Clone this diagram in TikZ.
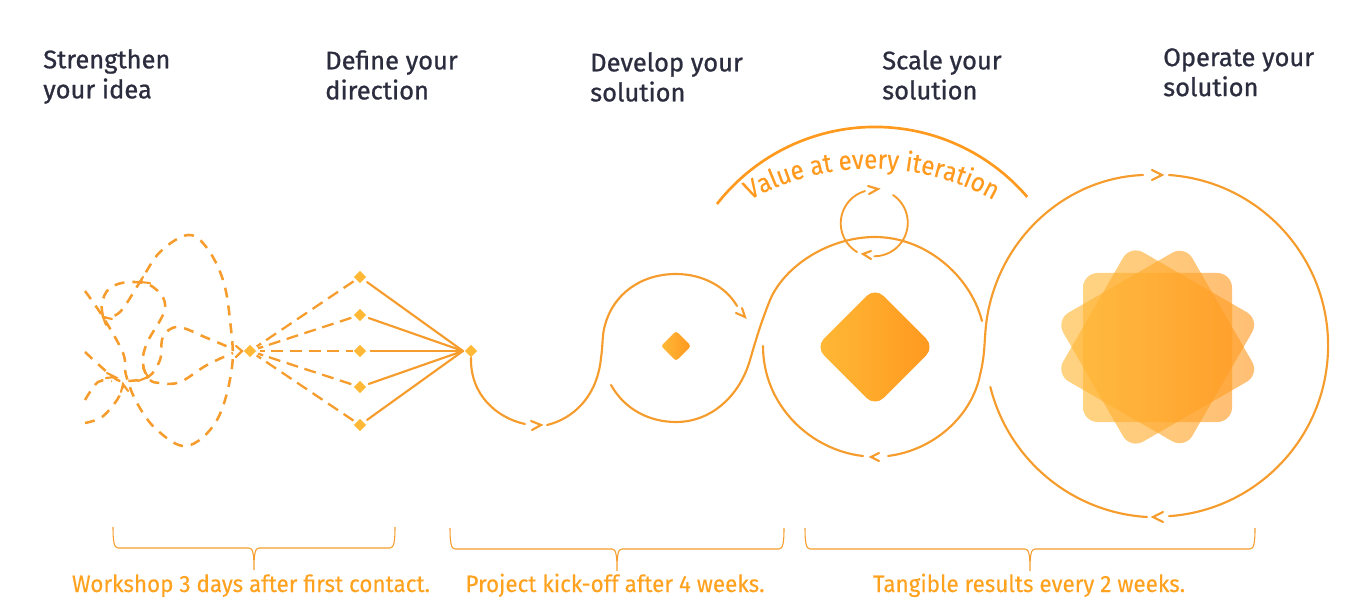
\documentclass[tikz,border=0pt]{standalone}
\usepackage{fontspec}
\setmainfont{Fira Sans}
\newfontfamily\headfont[FakeBold=0.9]{Fira Sans}
\newfontfamily\notefont[FakeBold=0.25,FakeStretch=0.95]{Fira Sans}
\newfontfamily\arcfont[FakeBold=0.3,FakeStretch=0.9]{Fira Sans}
\usetikzlibrary{shapes.geometric,decorations.text}
\definecolor{lineor}{HTML}{F59C2C}
\definecolor{arcor}{HTML}{FF9A1E}
\definecolor{inka}{HTML}{2B2D3E}
\definecolor{txtor}{HTML}{FFA21F}
\definecolor{gradl}{HTML}{FFB936}
\definecolor{gradr}{HTML}{FF981F}
\newcommand{\headsize}{\fontsize{19.1}{22.5}\selectfont}
\newcommand{\notesize}{\fontsize{17.7}{20}\selectfont}
\tikzset{
  x=0.75pt,y=-0.75pt,
  heading/.style={anchor=north west,inner sep=0pt,align=left,font=\headfont\headsize,text=inka},
  notetext/.style={anchor=base,inner sep=0pt,font=\notefont\notesize,text=txtor},
  solidline/.style={draw=lineor,line width=1.6pt,line cap=round},
  thinline/.style={draw=lineor,line width=1.4pt,line cap=round},
  dashline/.style={draw=lineor,line width=1.9pt,dash pattern=on 7.5pt off 6pt},
  fanline/.style={draw=lineor,line width=1.7pt,shorten <=2.5pt,dash pattern=on 4pt off 4.5pt on 9pt off 5pt on 9pt off 5pt on 9pt off 5pt on 9pt off 5pt on 9pt off 5pt on 9pt off 100pt},
  chevron/.style={draw=lineor,line width=1.6pt,line join=miter,line cap=round},
  dot/.style={diamond,fill=#1,inner sep=0pt,minimum size=9.5pt},
  dot/.default=gradl,
  bracket/.style={draw=lineor,line width=0.8pt},
  bigarc/.style={draw=arcor,line width=2pt},
  petal/.style={left color=gradl,right color=gradr,fill opacity=.62,rounded corners=11pt},
  gem/.style={left color=gradl,right color=gradr}
}
\begin{document}
\begin{tikzpicture}
\useasboundingbox (0,0) rectangle (1359,616);

% headings
\node[heading] (h1) at (43,49) {Strengthen\\your idea};
\node[heading] (h2) at (325,50) {Define your\\direction};
\node[heading] (h3) at (590,52) {Develop your\\solution};
\node[heading] (h4) at (882,50) {Scale your\\solution};
\node[heading] (h5) at (1163,48) {Operate your\\solution};

% loose dashed tangle
\draw[dashline] plot[smooth,tension=.6] coordinates {(85,291) (103,317) (123,353) (126,375) (137,403) (157,430) (187,446) (217,420) (232,367) (230,320) (223,280) (207,248) (188,235) (160,252) (140,282) (120,312) (104,318)};
\draw[dashline] plot[smooth,tension=.65] coordinates {(103,316) (102,303) (110,288) (130,282) (153,287) (165,308) (147,343) (143,363) (149,379) (160,383) (180,382) (207,365) (233,353)};
\draw[dashline] plot[smooth,tension=.6] coordinates {(85,352) (113,377) (125,381) (148,377) (160,360) (163,337) (178,327) (207,338) (233,349)};
\draw[dashline] plot[smooth,tension=.6] coordinates {(85,400) (98,382) (112,381)};
\draw[dashline] plot[smooth,tension=.6] coordinates {(85,423) (102,417) (117,400) (123,387)};
\draw[chevron] (107,373) -- (115,377) -- (106,378);
\draw[chevron] (121,392) -- (123,384) -- (128,391);
\draw[chevron] (112,319) -- (103,317) -- (106,325);
\draw[chevron] (143,277) -- (140,282) -- (150,283);
\draw[chevron] (143,368) -- (148,377) -- (138,381);
\draw[chevron] (236,346) -- (242,351) -- (236,357);

% fan
\node[dot] (start) at (250,351) {};
\node[dot] (t1) at (360,277) {};
\node[dot] (t2) at (360,315) {};
\node[dot] (t3) at (360,351) {};
\node[dot] (t4) at (360,387) {};
\node[dot] (t5) at (360,425) {};
\node[dot] (end) at (471,351) {};
\coordinate (conv) at (463,351);
\foreach \n in {t1,t2,t3,t4,t5}{
  \draw[fanline] (start) -- (\n);
  \draw[solidline,shorten <=3pt] (\n) -- (conv);
}

% develop loop
\draw[solidline] (end.south) .. controls (470,395) and (497,418) .. (525,424);
\draw[chevron] (531,421) -- (541,425) -- (532,430);
\draw[solidline] (547,425) .. controls (572,419) and (597,398) .. (601,358) .. controls (603,345) and (602,335) .. (605,325) .. controls (613,295) and (640,274) .. (676,274) .. controls (703,274) and (726,287) .. (737,306);
\draw[chevron] (736,313) -- (745,317) -- (742,308);
\draw[solidline] (611,385) .. controls (625,410) and (650,422) .. (676,422) .. controls (712,422) and (740,395) .. (750,360) .. controls (755,343) and (760,325) .. (770,300) .. controls (785,265) and (830,237) .. (875,237) .. controls (925,237) and (970,275) .. (982,321);
\shade[gem,rounded corners=2pt] (676,331) -- (691,346) -- (676,361) -- (661,346) -- cycle;

% scale loop
\draw[solidline] (763,346) .. controls (763,405) and (810,450) .. (863,456);
\draw[chevron] (879,453) -- (871,457) -- (879,461);
\draw[solidline] (888,456) .. controls (935,450) and (972,415) .. (980,375) .. controls (985,355) and (984,345) .. (986,325) .. controls (996,240) and (1065,178) .. (1143,175);
\shade[gem,rounded corners=9pt] (875,287.5) -- (934.5,347) -- (875,406.5) -- (815.5,347) -- cycle;

% small iteration loop
\draw[thinline] (893,195) arc[start angle=-56,end angle=90,radius=33.5];
\draw[thinline] (857,252) arc[start angle=121,end angle=254,radius=33.5];
\draw[chevron] (868,186) -- (878,189) -- (869,194);
\draw[chevron] (871,251) -- (863,254) -- (871,259);

% value arc and text
\draw[bigarc] (717,204) arc[start angle=218,end angle=319.4,radius=200.5];
\path[decorate,decoration={text along path,text color=arcor,text align=center,text={|\arcfont\fontsize{20}{22}\selectfont|Value at every iteration}}]
  (750,200) arc[start angle=241,end angle=299,radius=251];

% operate loop
\draw[solidline] (1169,175) arc[start angle=-86,end angle=86,radius=171];
\draw[solidline] (1147,517) arc[start angle=93.4,end angle=166,radius=172];
\draw[chevron] (1152,170) -- (1162,175) -- (1152,180);
\draw[chevron] (1163,512) -- (1153,517) -- (1163,522);
\foreach \r in {0,30,60}{
  \shade[petal,rotate around={\r:(1157,347)}] (1083,273) -- (1232,273) -- (1232,422) -- (1083,422) -- cycle;
}

% brackets
\draw[bracket] (113,527) .. controls (113,541) and (114,548) .. (118,548) -- (249,548) .. controls (253,548) and (254,554) .. (254,570) .. controls (254,554) and (255,548) .. (259,548) -- (390,548) .. controls (394,548) and (395,541) .. (395,527);
\draw[bracket] (450,528) .. controls (450,542) and (451,549) .. (455,549) -- (612,549) .. controls (616,549) and (617,555) .. (617,571) .. controls (617,555) and (618,549) .. (622,549) -- (779,549) .. controls (783,549) and (784,542) .. (784,528);
\draw[bracket] (805,528) .. controls (805,542) and (806,549) .. (810,549) -- (1025,549) .. controls (1029,549) and (1030,555) .. (1030,571) .. controls (1030,555) and (1031,549) .. (1035,549) -- (1250,549) .. controls (1254,549) and (1255,542) .. (1255,528);

\node[notetext] (n1) at (251,592) {Workshop 3 days after first contact.};
\node[notetext] (n2) at (615,592) {Project kick-off after 4 weeks.};
\node[notetext] (n3) at (1029,592) {Tangible results every 2 weeks.};
\end{tikzpicture}
\end{document}
